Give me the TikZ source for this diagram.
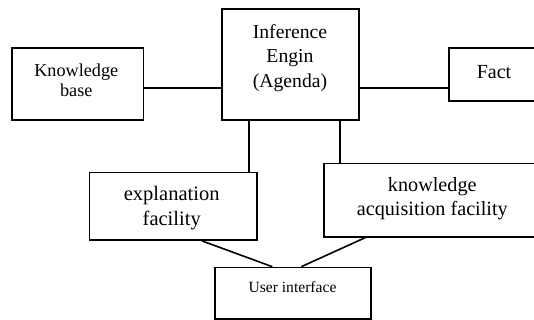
\documentclass[tikz,border=0pt]{standalone}
\usepackage{fontspec}
\setmainfont{Liberation Serif}
\begin{document}
\begin{tikzpicture}[x=1pt,y=-1pt,line width=1.6pt,
  box/.style={draw,line width=1.6pt,inner sep=0pt,anchor=north west},
  txt/.style={align=center,inner sep=0pt}]
\useasboundingbox (0,0) rectangle (534,320);
\clip (0,0) rectangle (534,320);
% boxes
\node[box,minimum width=131.7pt,minimum height=71.7pt] (kb) at (11,47.3) {};
\node[box,minimum width=136.7pt,minimum height=110.7pt] (ie) at (221.3,8.3) {};
\node[box,minimum width=120pt,minimum height=52.7pt] (fact) at (448.3,47.3) {};
\node[box,minimum width=167.6pt,minimum height=67.6pt] (ex) at (88.7,171.7) {};
\node[box,minimum width=240pt,minimum height=73.3pt] (ka) at (323,162.7) {};
\node[box,minimum width=156.3pt,minimum height=51.6pt] (ui) at (214,266.7) {};
% texts
\node[txt,font=\fontsize{18.2}{20}\selectfont] (kbt) at (76.3,80.5) {Knowledge\\base};
\node[txt,font=\fontsize{19.7}{24.5}\selectfont] (iet) at (290,58) {Inference\\Engin\\(Agenda)};
\node[txt,font=\fontsize{20}{22}\selectfont] (factt) at (494,72.5) {Fact};
\node[txt,font=\fontsize{20.5}{25}\selectfont] (ext) at (171.7,208) {explanation\\facility};
\node[txt,font=\fontsize{20.2}{24}\selectfont] (kat) at (432.3,198.5) {knowledge\\acquisition facility};
\node[txt,font=\fontsize{15.6}{18}\selectfont] (uit) at (292.5,287.5) {User interface};
% helper coordinates
\coordinate (h88) at (0,88);
\coordinate (v249) at (248.7,0);
\coordinate (v340) at (339.7,0);
\coordinate (v202) at (202,0);
\coordinate (v272) at (272.3,0);
\coordinate (v365) at (365.3,0);
\coordinate (v301) at (301.3,0);
% connectors
\draw (kb.east |- h88) -- (ie.west |- h88);
\draw (ie.east |- h88) -- (fact.west |- h88);
\draw (ie.south -| v249) -- (ex.north -| v249);
\draw (ie.south -| v340) -- (ka.north -| v340);
\draw (ex.south -| v202) -- (ui.north -| v272);
\draw (ka.south -| v365) -- (ui.north -| v301);
\end{tikzpicture}
\end{document}
